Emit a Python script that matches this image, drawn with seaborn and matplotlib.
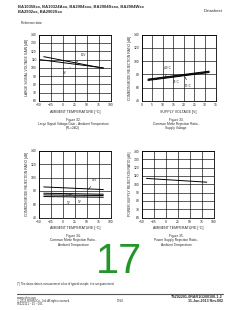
import matplotlib
matplotlib.use("Agg")
import matplotlib.pyplot as plt
import seaborn as sns
import pandas as pd

# ---------------- data ----------------
# Fig 32: large signal voltage gain vs ambient temperature
avol_temp_a = [-50, 85]
avol_a = [110, 100]
avol_temp_b = [-40, 85]
avol_b = [113.5, 99.5]
avol_labels = ["15V", "5V"]

# Fig 33: CMRR vs supply voltage
supply_v = [3, 32]
cmrr_m40 = [73, 85]
cmrr_25 = [72, 84]
cmrr_85 = [71, 83]
cmrr_v_labels = ["-40°C", "25°C", "85°C"]

# Fig 34: CMRR vs ambient temperature
cm_temp = [-40, 85]
cm_36v = [86, 82]
cm_15v = [76.5, 75]
cm_5v = [74, 73]
cm_3v = [71.5, 70.5]
cm_t_labels = ["36V", "15V", "5V", "3V"]

# Fig 35: PSRR vs ambient temperature
ps_temp = [-40, 85]
psrr = [107, 102.5]

temp_ticks = [-50, -25, 0, 25, 50, 75, 100]
volt_ticks = [0, 5, 10, 15, 20, 25, 30, 35]
ticks_60_140 = [60, 70, 80, 90, 100, 110, 120, 130, 140]
ticks_40_140 = [40, 60, 80, 100, 120, 140]

sns.set_style("white")
plt.rcParams['font.family'] = ['Liberation Sans', 'DejaVu Sans', 'Noto Sans CJK JP']

W, H = 240, 310
fig = plt.figure(figsize=(W / 100, H / 100), dpi=100)
fig.patch.set_facecolor("white")


def add_ax(x0, y0, x1, y1):
    return fig.add_axes([x0 / W, 1 - y1 / H, (x1 - x0) / W, (y1 - y0) / H])


def style(ax, xlim, xticks, ylim, yticks, xlabel, ylabel):
    ax.set_xlim(*xlim)
    ax.set_ylim(*ylim)
    ax.set_xticks(xticks)
    ax.set_yticks(yticks)
    ax.grid(True, color="black", lw=0.45)
    for s in ax.spines.values():
        s.set_color("black")
        s.set_linewidth(0.6)
    ax.tick_params(length=0, pad=1.6, labelsize=2.4, colors="#222222")
    ax.set_xlabel(xlabel, fontsize=2.6, labelpad=1.8)
    ax.set_ylabel(ylabel, fontsize=2.4, labelpad=1.5)
    if ax.get_legend() is not None:
        ax.get_legend().remove()


def line(ax, x, y):
    sns.lineplot(x=x, y=y, ax=ax, color="black", lw=0.7, legend=False)


def lab(ax, text, xy, xytext):
    ax.annotate(text, xy=xy, xytext=xytext, fontsize=2.2, ha="center", va="center",
                arrowprops=dict(arrowstyle="-", lw=0.4, color="black", shrinkA=0.5, shrinkB=0))


# ---- Fig 32
ax1 = add_ax(39, 34.7, 110.5, 101)
line(ax1, avol_temp_a, avol_a)
line(ax1, avol_temp_b, avol_b)
lab(ax1, avol_labels[0], (26, 105.5), (44, 115.5))
lab(ax1, avol_labels[1], (15.5, 100.7), (5, 94))
style(ax1, (-50, 100), temp_ticks, (60, 140), ticks_60_140,
      "AMBIENT TEMPERATURE [°C]", "LARGE SIGNAL VOLTAGE GAIN [dB]")

# ---- Fig 33
ax2 = add_ax(141.7, 34.7, 215.5, 101)
line(ax2, supply_v, cmrr_m40)
line(ax2, supply_v, cmrr_25)
line(ax2, supply_v, cmrr_85)
lab(ax2, cmrr_v_labels[0], (11.3, 76.7), (12.4, 89.3))
lab(ax2, cmrr_v_labels[1], (15.5, 77), (16.3, 69))
lab(ax2, cmrr_v_labels[2], (20.7, 76), (22.2, 63))
style(ax2, (0, 35), volt_ticks, (40, 140), ticks_40_140,
      "SUPPLY VOLTAGE [V]", "COMMON MODE REJECTION RATIO [dB]")

# ---- Fig 34
ax3 = add_ax(39, 151, 110.5, 217.5)
line(ax3, cm_temp, cm_36v)
line(ax3, cm_temp, cm_15v)
line(ax3, cm_temp, cm_5v)
line(ax3, cm_temp, cm_3v)
lab(ax3, cm_t_labels[0], (54, 82), (66, 95.7))
lab(ax3, cm_t_labels[1], (20, 75.5), (11.6, 74.5))
lab(ax3, cm_t_labels[3], (25, 71), (11.6, 62.4))
lab(ax3, cm_t_labels[2], (45, 72.5), (36, 64))
style(ax3, (-50, 100), temp_ticks, (40, 140), ticks_40_140,
      "AMBIENT TEMPERATURE [°C]", "COMMON MODE REJECTION RATIO [dB]")

# ---- Fig 35
ax4 = add_ax(141.7, 151, 214, 217.5)
line(ax4, ps_temp, psrr)
style(ax4, (-50, 100), temp_ticks, (60, 140), ticks_60_140,
      "AMBIENT TEMPERATURE [°C]", "POWER SUPPLY REJECTION RATIO [dB]")

# ---- captions
def cap(xc, y, lines):
    fig.text(xc / W, 1 - y / H, "\n".join(lines), fontsize=2.3, ha="center", va="top",
             linespacing=1.15)

cap(73, 117.5, ["Figure 32.", "Large Signal Voltage Gain - Ambient Temperature", "(RL=2kΩ)"])
cap(176, 117.5, ["Figure 33.", "Common Mode Rejection Ratio -", "Supply Voltage"])
cap(73, 234, ["Figure 34.", "Common Mode Rejection Ratio -", "Ambient Temperature"])
cap(176, 234, ["Figure 35.", "Power Supply Rejection Ratio -", "Ambient Temperature"])

# ---- header
fig.text(18 / W, 1 - 6 / H, "BA10358xx, BA10324Axx, BA2904xxx, BA2904Sxxx, BA2904Wxx",
         fontsize=3.0, weight="bold", va="center", ha="left")
fig.text(18 / W, 1 - 11.5 / H, "BA2902xx, BA2902Sxx",
         fontsize=3.0, weight="bold", va="center", ha="left")
fig.text(223 / W, 1 - 11.5 / H, "Datasheet", fontsize=3.0, va="center", ha="right")
fig.text(21 / W, 1 - 22.7 / H, "Reference data", fontsize=2.2, va="center", ha="left")

# ---- page number
fig.text(119 / W, 1 - 262 / H, "17", fontsize=30, color="#23962b", ha="center", va="center")

# ---- footnote & footer
fig.text(17 / W, 1 - 283.7 / H,
         "(*) The above data is measurement value of typical sample, it is not guaranteed.",
         fontsize=2.0, va="center", ha="left")
fig.add_artist(plt.Line2D([17 / W, 223 / W], [1 - 294 / H, 1 - 294 / H], color="#555555", lw=0.8))
fig.text(17 / W, 1 - 298 / H, "www.rohm.com", fontsize=2.0, va="center", ha="left")
fig.text(17 / W, 1 - 301 / H, "© 2013 ROHM Co., Ltd. All rights reserved.", fontsize=2.0,
         va="center", ha="left")
fig.text(17 / W, 1 - 304 / H, "TSZ22111・15・001", fontsize=2.0, va="center", ha="left",
         family=['Liberation Sans', 'Noto Sans CJK JP'])
fig.text(120 / W, 1 - 301 / H, "17/40", fontsize=2.0, va="center", ha="center")
fig.text(223 / W, 1 - 297.5 / H, "TSZ02201-0RAR1G200100-1-2", fontsize=2.6, weight="bold",
         va="center", ha="right")
fig.text(223 / W, 1 - 301.5 / H, "11.Jun.2013 Rev.002", fontsize=2.6, weight="bold",
         va="center", ha="right")

fig.savefig("out.png", dpi=100, facecolor="white")
